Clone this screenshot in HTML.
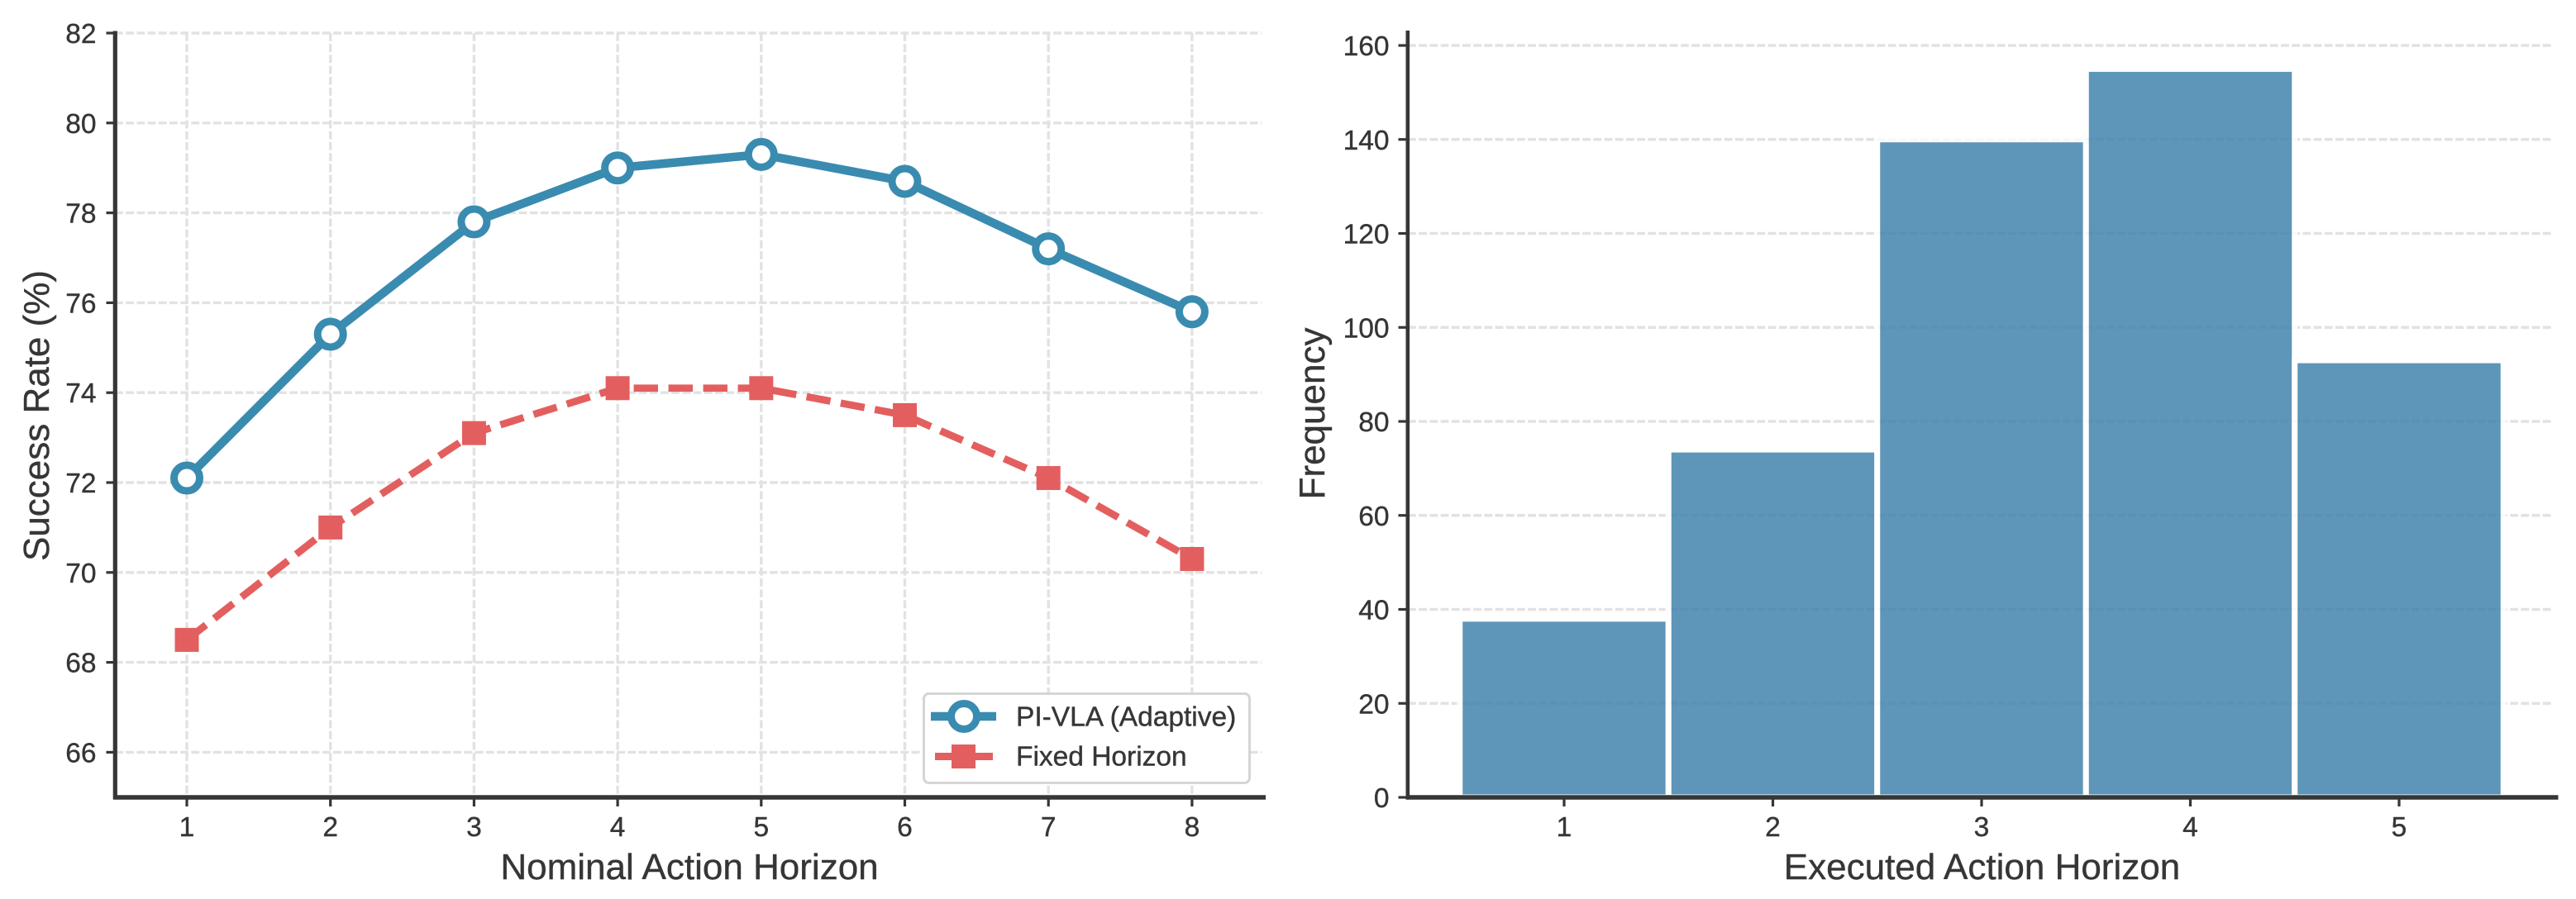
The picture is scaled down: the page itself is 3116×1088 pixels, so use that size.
<!DOCTYPE html>
<html lang="en">
<head>
<meta charset="utf-8">
<title>Action Horizon Charts</title>
<style>
html,body{margin:0;padding:0;background:#fff;width:3116px;height:1088px;overflow:hidden}
svg{display:block}
text{font-family:"Liberation Sans",Arial,sans-serif;fill:#363636;stroke:#363636;stroke-width:0.4px}
</style>
</head>
<body>
<svg id="figure" xmlns="http://www.w3.org/2000/svg" width="3116" height="1088" viewBox="0 0 3116 1088">
  <rect x="0" y="0" width="3116" height="1088" fill="#ffffff"/>
  <g id="left-chart"></g>
  <g id="right-chart"></g>
  <text transform="translate(59,503) rotate(-90)" text-anchor="middle" font-size="44">Success Rate (%)</text>
  <text x="834" y="1064" text-anchor="middle" font-size="44">Nominal Action Horizon</text>
  <text transform="translate(1602,500.5) rotate(-90)" text-anchor="middle" font-size="44">Frequency</text>
  <text x="2397.5" y="1064" text-anchor="middle" font-size="44">Executed Action Horizon</text>
  <g>
    <rect x="1117.5" y="839.5" width="394" height="108" rx="6" fill="#ffffff" stroke="#d5d5d5" stroke-width="3"/>
    <g>
      <line x1="1126" y1="867" x2="1205" y2="867" stroke="#3a8bb0" stroke-width="10.5"/>
      <circle cx="1166" cy="867" r="15.5" fill="#ffffff" stroke="#3a8bb0" stroke-width="9"/>
      <text x="1229" y="878.5" font-size="33.5">PI-VLA (Adaptive)</text>
    </g>
    <g>
      <line x1="1131" y1="915.5" x2="1201" y2="915.5" stroke="#e35f5f" stroke-width="9"/>
      <rect x="1151" y="901" width="29" height="29" fill="#e35f5f"/>
      <text x="1229" y="926.5" font-size="33.5">Fixed Horizon</text>
    </g>
  </g>
</svg>
<script>
/* Left chart data */
const horizonCategories = [1, 2, 3, 4, 5, 6, 7, 8];
const piVlaValues = [72.1, 75.3, 77.8, 79.0, 79.3, 78.7, 77.2, 75.8];
const fixedHorizonValues = [68.5, 71.0, 73.1, 74.1, 74.1, 73.5, 72.1, 70.3];
const leftYTicks = [66, 68, 70, 72, 74, 76, 78, 80, 82];
/* Right chart data */
const executedCategories = [1, 2, 3, 4, 5];
const executedFrequency = [38, 74, 140, 155, 93];
const rightYTicks = [0, 20, 40, 60, 80, 100, 120, 140, 160];

const NS = 'http://www.w3.org/2000/svg';
const INK = '#363636';
const GRID = '#e2e2e2';
const BLUE = '#3a8bb0';
const RED = '#e35f5f';

function make(tag, parent, props) {
  const el = document.createElementNS(NS, tag);
  for (const k in props) el.setAttribute(k, props[k]);
  parent.appendChild(el);
  return el;
}

/* Axis functions */
const leftX = v => 226 + (v - 1) * 173.7;
const leftY = v => 40 + (82 - v) * 54.4;
const rightX = v => 1892 + (v - 1) * 252.5;
const rightY = v => 965 - v * 5.6875;

const leftChart = document.getElementById('left-chart');
const rightChart = document.getElementById('right-chart');

/* ---- Left chart ---- */
leftYTicks.forEach(t => {
  const el = make('line', leftChart, {x1: 139, x2: 1526, y1: leftY(t), y2: leftY(t), stroke: GRID, 'stroke-width': 3.4, 'stroke-dasharray': '9.8 3.4'});
  
  
});
horizonCategories.forEach(c => {
  const el = make('line', leftChart, {x1: leftX(c), x2: leftX(c), y1: 40, y2: 965, stroke: GRID, 'stroke-width': 3.4, 'stroke-dasharray': '9.8 3.4'});
  
  
});

const bluePath = horizonCategories.map((c, i) => leftX(c) + ',' + leftY(piVlaValues[i])).join(' ');
const blueLine = make('polyline', leftChart, {points: bluePath, fill: 'none', stroke: BLUE, 'stroke-width': 10.5, 'stroke-linejoin': 'round'});



const redPath = horizonCategories.map((c, i) => leftX(c) + ',' + leftY(fixedHorizonValues[i])).join(' ');
const redLine = make('polyline', leftChart, {points: redPath, fill: 'none', stroke: RED, 'stroke-width': 8.8, 'stroke-dasharray': '29.4 12.6', 'stroke-linejoin': 'round'});



horizonCategories.forEach((c, i) => {
  const dot = make('circle', leftChart, {cx: leftX(c), cy: leftY(piVlaValues[i]), r: 15.5, fill: '#ffffff', stroke: BLUE, 'stroke-width': 9});
  
  
  const sq = make('rect', leftChart, {x: leftX(c) - 14.5, y: leftY(fixedHorizonValues[i]) - 14.5, width: 29, height: 29, fill: RED});
  
  
});

const leftSpineY = make('line', leftChart, {x1: 139.3, x2: 139.3, y1: 37.5, y2: 967.5, stroke: INK, 'stroke-width': 5.2});


const leftSpineX = make('line', leftChart, {x1: 137, x2: 1531, y1: 965, y2: 965, stroke: INK, 'stroke-width': 5.5});



leftYTicks.forEach(t => {
  const tick = make('line', leftChart, {x1: 128.5, x2: 137, y1: leftY(t), y2: leftY(t), stroke: INK, 'stroke-width': 3.2});
  
  
  const label = make('text', leftChart, {x: 116.5, y: leftY(t) + 12, 'text-anchor': 'end', 'font-size': 33.5});
  
  
  label.textContent = t;
});
horizonCategories.forEach(c => {
  const tick = make('line', leftChart, {x1: leftX(c), x2: leftX(c), y1: 967, y2: 976, stroke: INK, 'stroke-width': 3.2});
  
  
  const label = make('text', leftChart, {x: leftX(c), y: 1012, 'text-anchor': 'middle', 'font-size': 33.5});
  
  
  label.textContent = c;
});

/* ---- Right chart ---- */
rightYTicks.forEach(t => {
  const el = make('line', rightChart, {x1: 1703, x2: 3089, y1: rightY(t), y2: rightY(t), stroke: GRID, 'stroke-width': 3.4, 'stroke-dasharray': '9.8 3.4'});
  
  
});
const barGroup = make('g', rightChart, {opacity: 0.82});


executedCategories.forEach((c, i) => {
  const bar = make('rect', barGroup, {
    x: rightX(c - 0.5), y: rightY(executedFrequency[i]),
    width: rightX(c + 0.5) - rightX(c - 0.5),
    height: rightY(0) - rightY(executedFrequency[i]),
    fill: '#3a80a9', stroke: '#ffffff', 'stroke-width': 7
  });
  
  
});

const rightSpineY = make('line', rightChart, {x1: 1702.8, x2: 1702.8, y1: 37, y2: 967.5, stroke: INK, 'stroke-width': 4.6});


const rightSpineX = make('line', rightChart, {x1: 1700.5, x2: 3094.5, y1: 965, y2: 965, stroke: INK, 'stroke-width': 5.5});



rightYTicks.forEach(t => {
  const tick = make('line', rightChart, {x1: 1691.5, x2: 1701, y1: rightY(t), y2: rightY(t), stroke: INK, 'stroke-width': 3.2});
  
  
  const label = make('text', rightChart, {x: 1680.5, y: rightY(t) + 12, 'text-anchor': 'end', 'font-size': 33.5});
  
  
  label.textContent = t;
});
executedCategories.forEach(c => {
  const tick = make('line', rightChart, {x1: rightX(c), x2: rightX(c), y1: 967, y2: 976, stroke: INK, 'stroke-width': 3.2});
  
  
  const label = make('text', rightChart, {x: rightX(c), y: 1012, 'text-anchor': 'middle', 'font-size': 33.5});
  
  
  label.textContent = c;
});
</script>
</body>
</html>
